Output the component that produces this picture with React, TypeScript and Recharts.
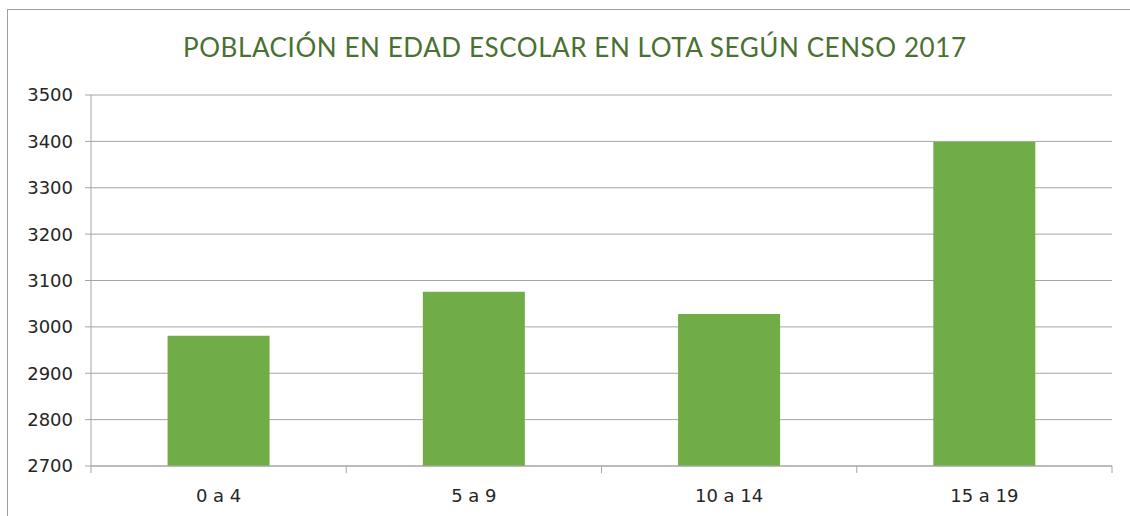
import React from 'react';
import { BarChart, Bar, XAxis, YAxis, CartesianGrid } from 'recharts';

const categories = ['0 a 4', '5 a 9', '10 a 14', '15 a 19'];
const population = [2981, 3076, 3028, 3399];
const yTicks = [2700, 2800, 2900, 3000, 3100, 3200, 3300, 3400, 3500];
const title = 'POBLACIÓN EN EDAD ESCOLAR EN LOTA SEGÚN CENSO 2017';

const data = categories.map((c, i) => ({ name: c, value: population[i] }));

const GRID = '#A6A6A6';
const TEXT = '#262626';
const FONT = '"DejaVu Sans", sans-serif';
const X_TICK_SIZE = 7;
const X_TICK_MARGIN = 16;

const XTick = (props: any) => {
  const { x, y, payload, index, visibleTicksCount, width } = props;
  const half =
    payload && typeof payload.offset === 'number' && payload.offset > 0
      ? payload.offset
      : width / (visibleTicksCount || 1) / 2;
  const axisY = y - X_TICK_SIZE - X_TICK_MARGIN;
  return (
    <g>
      <line x1={x - half} x2={x - half} y1={axisY} y2={axisY + X_TICK_SIZE} stroke={GRID} />
      {index === visibleTicksCount - 1 && (
        <line x1={x + half} x2={x + half} y1={axisY} y2={axisY + X_TICK_SIZE} stroke={GRID} />
      )}
      <text x={x} y={y} dy="0.71em" textAnchor="middle" fill={TEXT} fontSize={18} fontFamily={FONT}>
        {payload.value}
      </text>
    </g>
  );
};

export default function App() {
  return (
    <div style={{ position: 'absolute', left: 0, top: 0, width: 1130, height: 516, background: '#fff', overflow: 'hidden' }}>
      <div
        style={{
          position: 'absolute',
          left: 7,
          top: 9,
          width: 1140,
          height: 520,
          borderLeft: '1px solid #A0A0A0',
          borderTop: '1px solid #A0A0A0',
        }}
      />
      <svg width={1130} height={80} style={{ position: 'absolute', left: 0, top: 0 }}>
        <text
          x={574.5}
          y={57}
          textAnchor="middle"
          fill="#4A7032"
          fontSize={26}
          fontFamily='Lato, "DejaVu Sans", sans-serif'
          textLength={783}
          lengthAdjust="spacing"
        >
          {title}
        </text>
      </svg>
      <div style={{ position: 'absolute', left: 0, top: 0 }}>
        <BarChart
          width={1130}
          height={516}
          data={data}
          margin={{ top: 95, right: 18, bottom: 10, left: 0 }}
          barCategoryGap="30%"
        >
          <CartesianGrid vertical={false} stroke={GRID} />
          <XAxis
            dataKey="name"
            height={40}
            stroke={GRID}
            tickLine={false}
            tickSize={X_TICK_SIZE}
            tickMargin={X_TICK_MARGIN}
            tick={<XTick />}
            interval={0}
          />
          <YAxis
            width={91}
            domain={[2700, 3500]}
            ticks={yTicks}
            interval={0}
            allowDataOverflow
            stroke={GRID}
            tickSize={6}
            tickMargin={12}
            tick={{ fill: TEXT, fontSize: 18, fontFamily: FONT }}
          />
          <Bar dataKey="value" fill="#70AD47" isAnimationActive={false} />
        </BarChart>
      </div>
    </div>
  );
}
